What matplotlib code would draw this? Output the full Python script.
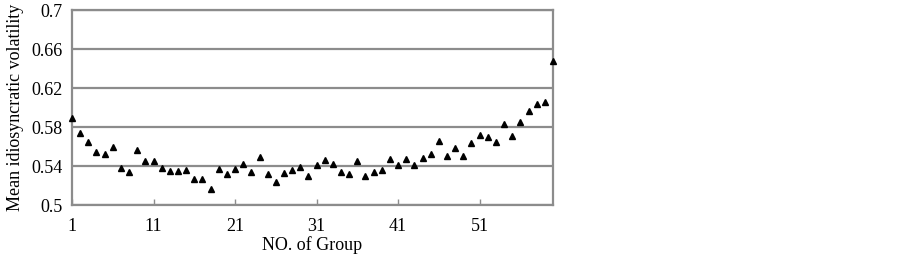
import matplotlib
matplotlib.use("Agg")
import matplotlib.pyplot as plt
import numpy as np

# mean idiosyncratic volatility per group
groups = np.arange(1, 61)
volatility = [
    0.589, 0.574, 0.565, 0.554, 0.552, 0.560, 0.538, 0.534, 0.556, 0.545,
    0.545, 0.538, 0.535, 0.535, 0.536, 0.527, 0.527, 0.516, 0.537, 0.532,
    0.537, 0.542, 0.534, 0.549, 0.532, 0.524, 0.533, 0.536, 0.539, 0.530,
    0.541, 0.546, 0.542, 0.534, 0.532, 0.545, 0.530, 0.534, 0.536, 0.547,
    0.541, 0.547, 0.541, 0.548, 0.552, 0.566, 0.550, 0.558, 0.550, 0.564,
    0.572, 0.570, 0.565, 0.583, 0.571, 0.585, 0.596, 0.604, 0.606, 0.648,
]
xticks = [1, 11, 21, 31, 41, 51]
yticks = [0.5, 0.54, 0.58, 0.62, 0.66, 0.7]
ytick_labels = ["0.5", "0.54", "0.58", "0.62", "0.66", "0.7"]

plt.rcParams['font.family'] = ['Liberation Serif', 'DejaVu Serif']
grey = '#8c8c8c'

fig = plt.figure(figsize=(9.02, 2.57), dpi=100)
ax = fig.add_axes([0.0798, 0.2023, 0.5333, 0.7587])

ax.plot(groups, volatility, linestyle='none', marker='^', color='black',
        markersize=4.5, clip_on=False, zorder=3)

ax.set_xlim(1, 60)
ax.set_ylim(0.5, 0.7)
ax.set_xticks(xticks)
ax.set_yticks(yticks)
ax.set_yticklabels(ytick_labels)
ax.yaxis.grid(True, color=grey, linewidth=1.6)
ax.set_axisbelow(True)
for s in ax.spines.values():
    s.set_color(grey)
    s.set_linewidth(1.6)

ax.tick_params(axis='x', direction='in', length=4, color=grey, width=1,
               labelsize=13, pad=9)
ax.tick_params(axis='y', length=0, labelsize=13, pad=7)

ax.set_xlabel("NO. of Group", fontsize=13, labelpad=1)
ax.set_ylabel("Mean idiosyncratic volatility", fontsize=13, labelpad=5)

fig.savefig("out.png", dpi=100)
